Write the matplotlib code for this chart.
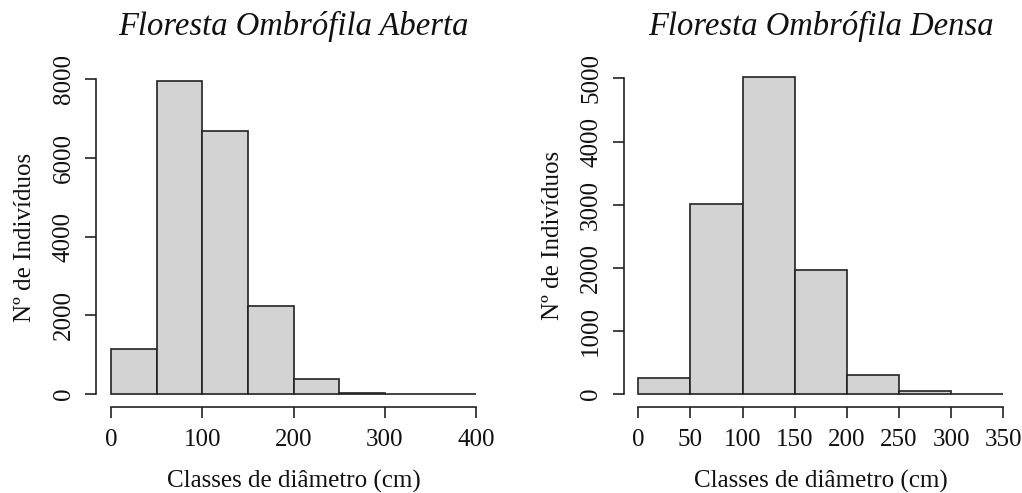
import matplotlib
matplotlib.use("Agg")
import matplotlib.pyplot as plt
import numpy as np

# Data
edges_aberta = [0, 50, 100, 150, 200, 250, 300, 350, 400]
counts_aberta = [1140, 7958, 6675, 2225, 374, 30, 4, 2]
edges_densa = [0, 50, 100, 150, 200, 250, 300, 350]
counts_densa = [249, 3006, 5021, 1957, 302, 37, 3]
xticks_aberta = [0, 100, 200, 300, 400]
yticks_aberta = [0, 2000, 4000, 6000, 8000]
xticks_densa = [0, 50, 100, 150, 200, 250, 300, 350]
yticks_densa = [0, 1000, 2000, 3000, 4000, 5000]
titles = ["Floresta Ombrófila Aberta", "Floresta Ombrófila Densa"]
xlabel = "Classes de diâmetro (cm)"
ylabel = "Nº de Indivíduos"

plt.rcParams['font.family'] = ['Liberation Serif', 'DejaVu Serif']

W, H = 1022, 493
fig = plt.figure(figsize=(W / 100, H / 100), dpi=100)

def px_axes(x0, x1, ytop, ybot):
    return fig.add_axes([x0 / W, (H - ybot) / H, (x1 - x0) / W, (ybot - ytop) / H])

boxes = [(96.4, 490.6, 68.5, 406.5), (623.7, 1017.9, 64.5, 406.5)]
panels = [
    (boxes[0], edges_aberta, counts_aberta, xticks_aberta, yticks_aberta, titles[0]),
    (boxes[1], edges_densa, counts_densa, xticks_densa, yticks_densa, titles[1]),
]

title_baseline_px = 34.5
ink = "#222222"
txt = "#111111"
for box, edges, counts, xt, yt, title in panels:
    ax = px_axes(*box)
    edges = np.array(edges, dtype=float)
    counts = np.array(counts, dtype=float)
    ax.bar(edges[:-1], counts, width=np.diff(edges), align="edge",
           color="#d3d3d3", edgecolor=ink, linewidth=1.2)
    x0, x1 = edges[0], edges[-1]
    xr = x1 - x0
    ax.set_xlim(x0 - 0.04 * xr, x1 + 0.04 * xr)
    ym = counts.max()
    ax.set_ylim(-0.04 * ym, 1.04 * ym)
    for s in ["top", "right"]:
        ax.spines[s].set_visible(False)
    ax.spines["left"].set_bounds(yt[0], yt[-1])
    ax.spines["bottom"].set_bounds(xt[0], xt[-1])
    for s in ["left", "bottom"]:
        ax.spines[s].set_color(ink)
        ax.spines[s].set_linewidth(1.2)
    ax.set_xticks(xt)
    ax.set_yticks(yt)
    ax.set_yticklabels([str(v) for v in yt], rotation=90, va="center")
    ax.tick_params(axis="both", length=8, width=1.2, color=ink, labelsize=18, labelcolor=txt)
    ax.tick_params(axis="x", pad=8.5)
    ax.tick_params(axis="y", pad=7.5)
    ax.set_xlabel(xlabel, fontsize=18, labelpad=13, color=txt)
    ax.set_ylabel(ylabel, fontsize=18, labelpad=12, color=txt)
    ytop, ybot = box[2], box[3]
    ty = (ybot - title_baseline_px) / (ybot - ytop)
    ax.set_title(title, fontsize=23.5, style="italic", color=txt, y=ty, pad=0,
                 va="baseline")
    ax.patch.set_visible(False)

fig.savefig("out.png", dpi=100)
